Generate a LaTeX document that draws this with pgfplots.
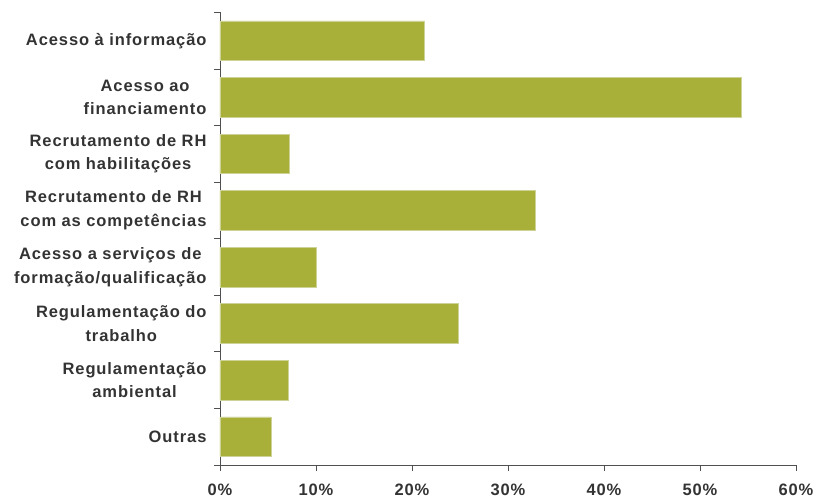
\documentclass[border=0pt]{standalone}
\usepackage{pgfplots}
\pgfplotsset{compat=1.18}
\usepackage{fontspec}
\setmainfont{Liberation Sans}[LetterSpace=5.5]
\definecolor{barolive}{RGB}{169,176,58}
\definecolor{baredge}{RGB}{205,210,150}
\definecolor{txtgray}{RGB}{51,51,51}
\definecolor{axgray}{RGB}{80,80,80}
\begin{document}
\begin{tikzpicture}
\begin{axis}[
    scale only axis,
    width=576pt, height=452.5pt,
    xbar, bar width=0.7,
    xmin=0, xmax=60, ymin=-0.5, ymax=7.5,
    axis lines=left,
    axis line style={-, axgray, line width=0.8pt},
    tick style={axgray, line width=0.8pt},
    tick align=outside,
    major tick length=6pt,
    xtick={0,10,...,60},
    xticklabel={\pgfmathprintnumber{\tick}\%},
    xticklabel style={yshift=-9pt},
    /pgf/number format/assume math mode=true,
    ytick={-0.5,0.5,...,7.5},
    yticklabels={},
    extra y ticks={0,1,2,3,4,5,6,7},
    extra y tick labels={
        Outras,
        {Regulamentação\\ambiental},
        {Regulamentação do\\trabalho},
        {Acesso a serviços de\\formação/qualificação},
        {Recrutamento de RH\\com as competências},
        {Recrutamento de RH\\com habilitações},
        {Acesso ao\\financiamento},
        Acesso à informação},
    extra y tick style={major tick length=0pt},
    yticklabel style={align=center, xshift=-10pt},
    tick label style={font=\fontsize{16.5}{23.5}\selectfont\bfseries, text=txtgray},
]
\addplot[fill=barolive, draw=baredge, line width=0.6pt] coordinates {
    (21.3,7) (54.3,6) (7.2,5) (32.8,4) (10.0,3) (24.8,2) (7.1,1) (5.3,0)
};
\end{axis}
\pgfresetboundingbox
\path ([xshift=-220pt,yshift=-37pt]current axis.south west) rectangle ([xshift=23pt,yshift=12.5pt]current axis.north east);
\end{tikzpicture}
\end{document}
